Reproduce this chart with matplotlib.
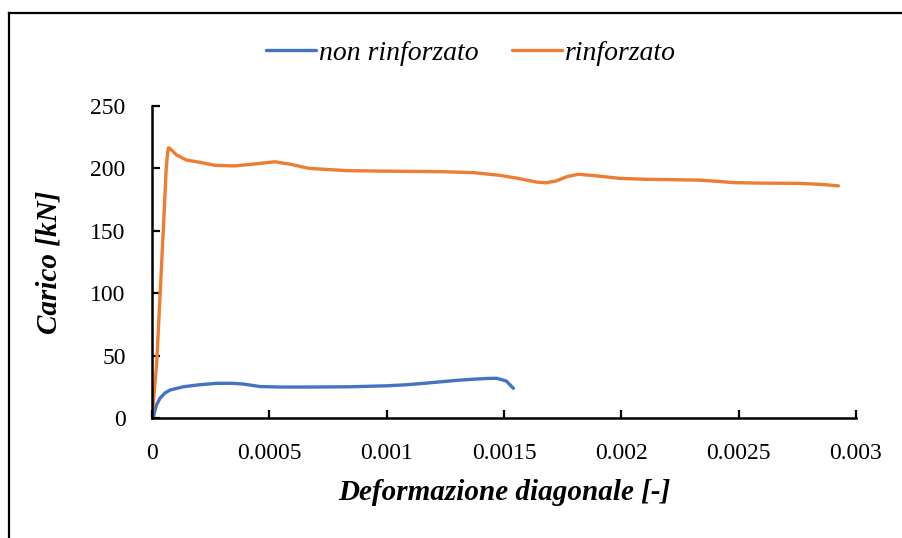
import matplotlib
matplotlib.use('Agg')
import matplotlib.pyplot as plt
from matplotlib.lines import Line2D

plt.rcParams['font.family'] = ['Liberation Serif', 'DejaVu Serif']

# deformazione diagonale [-] / carico [kN]
NR_X = [0, 0.000006, 0.000018, 0.000034, 0.000055, 0.000077, 0.000133, 0.0002, 0.000276, 0.00034,
        0.00039, 0.00046, 0.00055, 0.00065, 0.00084, 0.001, 0.00108, 0.00116, 0.0013,
        0.00138, 0.00143, 0.00147, 0.00151, 0.00154]
NR_Y = [0, 1, 10, 15.8, 20, 22.4, 25, 26.6, 27.8, 27.8,
        27.2, 25.2, 24.8, 24.8, 25, 25.8, 26.6, 27.8, 30.2,
        31.2, 31.7, 31.8, 29.6, 23.8]

R_X = [0, 0.00001, 0.00002, 0.000034, 0.000048, 0.00006, 0.000066, 0.00007, 0.000076, 0.000105,
       0.000147, 0.000204, 0.00027, 0.00035, 0.00042, 0.000524, 0.00059, 0.00067, 0.00083,
       0.001, 0.00123, 0.00137, 0.00148, 0.00156, 0.00164, 0.00168, 0.00172, 0.00177, 0.001817,
       0.00188, 0.001994, 0.0021, 0.0022, 0.00233, 0.00242, 0.00248, 0.0026, 0.00276, 0.00285, 0.002925]
R_Y = [0, 22, 44, 97, 150, 198, 212, 216.5, 216, 210.7,
       206.7, 204.9, 202.4, 202, 203.2, 205.3, 203.3, 200, 198.2,
       197.8, 197.4, 196.6, 194.5, 192, 189, 188.5, 189.8, 193.5, 195.3,
       194.3, 192, 191.3, 191, 190.6, 189.5, 188.6, 188.2, 188, 187.2, 186]

X_TICKS = [0, 0.0005, 0.001, 0.0015, 0.002, 0.0025, 0.003]
X_LABELS = ['0', '0.0005', '0.001', '0.0015', '0.002', '0.0025', '0.003']
Y_TICKS = [0, 50, 100, 150, 200, 250]

fig = plt.figure(figsize=(9.03, 5.38), dpi=100)
ax = fig.add_axes([152 / 903, 120 / 538, 704 / 903, 312 / 538])

ax.plot(NR_X, NR_Y, color='#4472C4', lw=2.4, label='non rinforzato',
        solid_capstyle='round', solid_joinstyle='round')
ax.plot(R_X, R_Y, color='#ED7D31', lw=2.4, label='rinforzato',
        solid_capstyle='round', solid_joinstyle='round')

ax.set_xlim(0, 0.003)
ax.set_ylim(0, 250)
ax.set_xticks(X_TICKS)
ax.set_xticklabels(X_LABELS)
ax.set_yticks(Y_TICKS)
for s in ['top', 'right']:
    ax.spines[s].set_visible(False)
for s in ['left', 'bottom']:
    ax.spines[s].set_linewidth(1.8)
ax.tick_params(direction='in', length=6, width=1.6, labelsize=17)
ax.tick_params(axis='x', pad=18)
ax.tick_params(axis='y', pad=19)

ax.set_xlabel('Deformazione diagonale [-]', fontsize=21, fontweight='bold', style='italic', labelpad=11)
ax.set_ylabel('Carico [kN]', fontsize=21, fontweight='bold', style='italic', labelpad=20)

fig.legend(loc='center', bbox_to_anchor=(471 / 903, 1 - 53 / 538), ncol=2, frameon=False,
           prop={'style': 'italic', 'size': 20}, handlelength=1.8, handletextpad=0.1, columnspacing=1.2)

# outer frame (left and top edges visible in the original crop)
fig.add_artist(Line2D([8.5 / 903, 8.5 / 903], [0, 1 - 12.5 / 538], transform=fig.transFigure, color='black', lw=1.6))
fig.add_artist(Line2D([8.5 / 903, 1], [1 - 12.5 / 538, 1 - 12.5 / 538], transform=fig.transFigure, color='black', lw=1.6))

fig.savefig('out.png', dpi=100)
